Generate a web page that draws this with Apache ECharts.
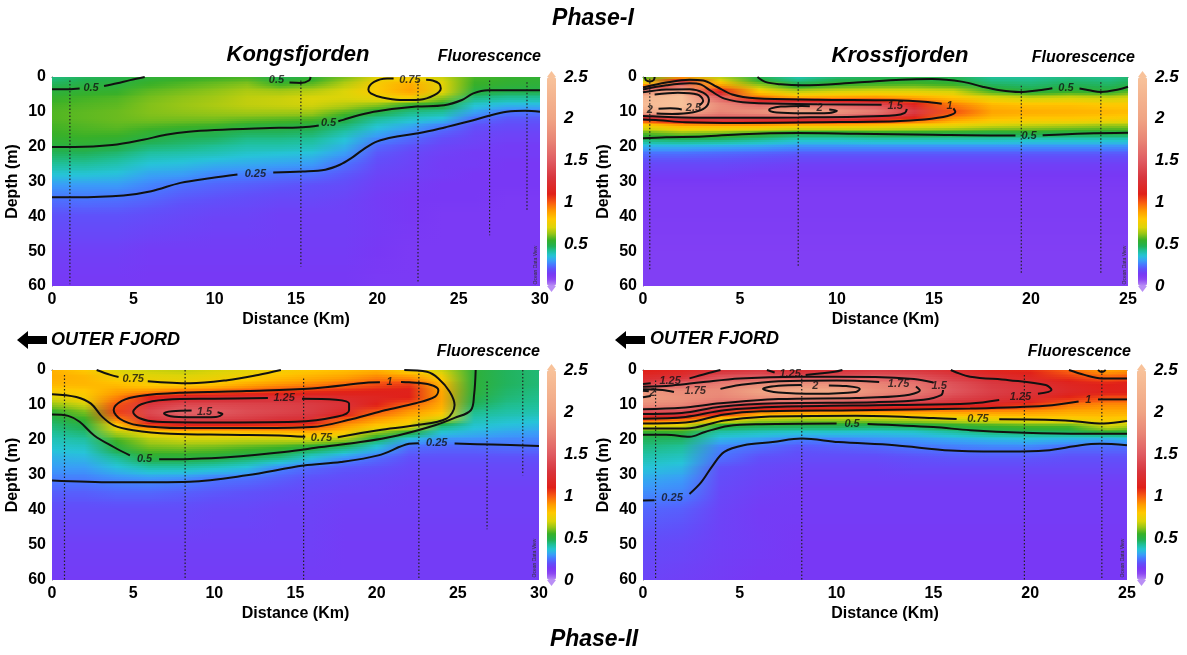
<!DOCTYPE html>
<html lang="en">
<head>
<meta charset="utf-8">
<title>Fluorescence sections</title>
<script src="https://cdn.jsdelivr.net/npm/echarts@6/dist/echarts.min.js"></script>
<style>
  html, body { margin: 0; padding: 0; background: #fff; }
  #main { width: 1187px; height: 655px; }
</style>
</head>
<body>
<div id="main"></div>
<script>
// depth nodes (m) shared by all sections
var depths = [0, 2, 4, 6, 8, 10, 12, 14, 16, 18, 20, 22, 25, 28, 31, 35, 40, 50, 60];
var kongsX = [0, 2, 4, 6, 8, 10, 12, 14, 16, 18, 20, 22, 24, 26, 28, 30];
var krossX = [0, 2, 4, 6, 8, 10, 12, 14, 16, 18, 20, 22, 24, 25];

// fluorescence profiles, one per distance node (top -> bottom)
var kongsP1 = [
  [0.44,0.47,0.51,0.54,0.56,0.57,0.57,0.56,0.55,0.53,0.50,0.47,0.42,0.36,0.30,0.245,0.20,0.16,0.14],
  [0.47,0.50,0.53,0.56,0.57,0.58,0.58,0.57,0.56,0.54,0.51,0.47,0.42,0.36,0.30,0.25,0.20,0.16,0.14],
  [0.49,0.51,0.54,0.57,0.58,0.59,0.59,0.58,0.56,0.53,0.49,0.45,0.40,0.35,0.30,0.245,0.20,0.16,0.14],
  [0.52,0.55,0.58,0.60,0.61,0.61,0.60,0.57,0.53,0.49,0.45,0.41,0.36,0.31,0.27,0.23,0.19,0.15,0.14],
  [0.54,0.57,0.60,0.62,0.63,0.62,0.60,0.56,0.50,0.47,0.44,0.40,0.35,0.30,0.245,0.21,0.18,0.15,0.14],
  [0.55,0.59,0.62,0.64,0.65,0.63,0.60,0.55,0.49,0.46,0.42,0.39,0.33,0.27,0.23,0.20,0.17,0.15,0.14],
  [0.56,0.61,0.65,0.67,0.67,0.64,0.59,0.52,0.47,0.43,0.40,0.37,0.32,0.26,0.22,0.19,0.17,0.15,0.14],
  [0.48,0.55,0.64,0.68,0.68,0.64,0.58,0.51,0.47,0.43,0.40,0.36,0.31,0.245,0.21,0.18,0.16,0.15,0.14],
  [0.52,0.58,0.66,0.70,0.69,0.64,0.57,0.50,0.46,0.42,0.39,0.35,0.30,0.24,0.20,0.18,0.16,0.15,0.14],
  [0.60,0.66,0.70,0.70,0.66,0.58,0.50,0.45,0.40,0.36,0.33,0.30,0.245,0.21,0.19,0.17,0.16,0.15,0.14],
  [0.72,0.78,0.79,0.73,0.62,0.50,0.42,0.37,0.32,0.27,0.23,0.21,0.19,0.17,0.16,0.15,0.15,0.14,0.13],
  [0.76,0.86,0.88,0.78,0.53,0.44,0.38,0.32,0.27,0.23,0.20,0.18,0.17,0.16,0.15,0.14,0.14,0.13,0.13],
  [0.68,0.72,0.72,0.62,0.51,0.42,0.35,0.26,0.22,0.19,0.17,0.16,0.15,0.15,0.14,0.14,0.13,0.13,0.13],
  [0.56,0.55,0.51,0.44,0.37,0.31,0.24,0.20,0.18,0.17,0.16,0.15,0.15,0.14,0.14,0.14,0.13,0.13,0.13],
  [0.54,0.53,0.49,0.42,0.34,0.25,0.21,0.19,0.17,0.16,0.15,0.15,0.14,0.14,0.14,0.13,0.13,0.13,0.13],
  [0.53,0.52,0.49,0.42,0.34,0.25,0.21,0.19,0.17,0.16,0.15,0.15,0.14,0.14,0.14,0.13,0.13,0.13,0.13]
];
var krossP1 = [
  [0.55,0.80,1.75,2.30,2.40,2.05,1.10,0.75,0.58,0.45,0.32,0.24,0.18,0.15,0.13,0.12,0.12,0.11,0.11],
  [0.85,1.50,2.15,2.55,2.55,2.15,1.30,0.85,0.62,0.46,0.32,0.24,0.18,0.15,0.13,0.12,0.12,0.11,0.11],
  [0.65,0.85,1.10,1.55,1.80,1.75,1.40,0.85,0.60,0.45,0.31,0.23,0.18,0.15,0.13,0.12,0.12,0.11,0.11],
  [0.48,0.60,0.78,0.98,1.60,1.85,1.35,0.85,0.55,0.42,0.30,0.22,0.17,0.14,0.13,0.12,0.12,0.11,0.11],
  [0.40,0.48,0.65,0.88,1.70,2.05,1.30,0.80,0.50,0.38,0.28,0.21,0.16,0.14,0.13,0.12,0.12,0.11,0.11],
  [0.45,0.53,0.68,0.90,1.55,1.90,1.30,0.80,0.50,0.38,0.28,0.21,0.16,0.14,0.13,0.12,0.12,0.11,0.11],
  [0.47,0.55,0.70,0.92,1.45,1.70,1.20,0.78,0.52,0.39,0.28,0.21,0.16,0.14,0.13,0.12,0.12,0.11,0.11],
  [0.49,0.56,0.70,0.88,1.15,1.35,1.05,0.75,0.52,0.39,0.28,0.21,0.16,0.14,0.13,0.12,0.12,0.11,0.11],
  [0.48,0.54,0.68,0.82,0.95,1.02,0.90,0.72,0.51,0.39,0.28,0.21,0.16,0.14,0.13,0.12,0.12,0.11,0.11],
  [0.42,0.46,0.55,0.72,0.84,0.88,0.82,0.68,0.50,0.39,0.28,0.21,0.16,0.14,0.13,0.12,0.12,0.11,0.11],
  [0.42,0.45,0.50,0.68,0.82,0.86,0.80,0.66,0.51,0.38,0.28,0.21,0.16,0.14,0.13,0.12,0.12,0.11,0.11],
  [0.44,0.47,0.53,0.70,0.82,0.85,0.80,0.64,0.50,0.38,0.28,0.21,0.16,0.14,0.13,0.12,0.12,0.11,0.11],
  [0.43,0.46,0.51,0.68,0.80,0.84,0.78,0.62,0.50,0.38,0.28,0.21,0.16,0.14,0.13,0.12,0.12,0.11,0.11],
  [0.45,0.48,0.56,0.70,0.80,0.83,0.77,0.62,0.50,0.38,0.28,0.21,0.16,0.14,0.13,0.12,0.12,0.11,0.11]
];
var kongsP2 = [
  [0.85,0.86,0.84,0.78,0.70,0.62,0.53,0.48,0.45,0.42,0.39,0.37,0.33,0.30,0.26,0.22,0.19,0.16,0.15],
  [0.80,0.84,0.84,0.80,0.77,0.68,0.60,0.55,0.49,0.45,0.41,0.38,0.34,0.30,0.26,0.22,0.19,0.16,0.15],
  [0.70,0.76,0.82,0.88,0.94,1.02,1.05,0.95,0.77,0.65,0.56,0.51,0.42,0.35,0.28,0.23,0.19,0.16,0.15],
  [0.68,0.72,0.78,0.90,1.12,1.30,1.40,1.30,1.00,0.74,0.65,0.60,0.51,0.40,0.29,0.23,0.19,0.16,0.15],
  [0.67,0.71,0.77,0.95,1.20,1.40,1.55,1.40,1.08,0.78,0.68,0.61,0.51,0.40,0.28,0.22,0.19,0.16,0.15],
  [0.69,0.73,0.80,0.97,1.22,1.40,1.50,1.38,1.07,0.78,0.68,0.60,0.50,0.38,0.25,0.21,0.18,0.16,0.15],
  [0.72,0.76,0.86,1.00,1.24,1.38,1.42,1.34,1.06,0.80,0.67,0.58,0.47,0.35,0.24,0.20,0.18,0.16,0.15],
  [0.76,0.82,0.90,1.04,1.25,1.36,1.38,1.28,1.05,0.82,0.67,0.56,0.44,0.27,0.22,0.19,0.17,0.16,0.15],
  [0.80,0.85,0.93,1.06,1.24,1.33,1.33,1.25,1.03,0.84,0.68,0.51,0.36,0.23,0.20,0.18,0.17,0.16,0.15],
  [0.82,0.88,0.97,1.08,1.20,1.26,1.20,1.00,0.90,0.79,0.63,0.46,0.29,0.21,0.19,0.17,0.16,0.15,0.15],
  [0.85,0.93,1.02,1.10,1.15,1.10,1.00,0.90,0.80,0.62,0.46,0.36,0.24,0.20,0.18,0.17,0.16,0.15,0.15],
  [0.76,0.90,1.05,1.12,1.10,0.98,0.90,0.82,0.74,0.50,0.33,0.24,0.20,0.18,0.17,0.16,0.16,0.15,0.15],
  [0.68,0.77,0.84,0.87,0.88,0.86,0.82,0.70,0.45,0.36,0.28,0.23,0.20,0.18,0.17,0.16,0.16,0.15,0.15],
  [0.52,0.52,0.52,0.52,0.50,0.47,0.43,0.40,0.37,0.33,0.28,0.23,0.20,0.18,0.17,0.16,0.16,0.15,0.15],
  [0.47,0.47,0.47,0.46,0.45,0.43,0.41,0.38,0.35,0.31,0.27,0.24,0.20,0.18,0.17,0.16,0.16,0.15,0.15],
  [0.45,0.45,0.45,0.44,0.43,0.42,0.40,0.37,0.34,0.30,0.27,0.24,0.20,0.18,0.17,0.16,0.16,0.15,0.15]
];
var krossP2 = [
  [1.10,1.20,1.30,1.90,1.95,1.80,1.40,1.05,0.72,0.52,0.47,0.44,0.40,0.36,0.32,0.28,0.23,0.19,0.17],
  [1.15,1.25,1.55,1.80,1.85,1.75,1.40,1.00,0.70,0.52,0.46,0.42,0.38,0.34,0.30,0.27,0.22,0.18,0.16],
  [1.25,1.45,1.70,1.80,1.75,1.50,1.20,0.80,0.50,0.40,0.33,0.27,0.245,0.20,0.19,0.18,0.17,0.16,0.15],
  [1.30,1.50,1.80,2.00,1.85,1.30,0.95,0.68,0.48,0.38,0.30,0.24,0.20,0.18,0.17,0.16,0.15,0.15,0.14],
  [1.22,1.45,1.85,2.10,1.85,1.35,0.92,0.65,0.48,0.36,0.26,0.21,0.19,0.17,0.16,0.15,0.15,0.14,0.14],
  [1.26,1.45,1.85,2.05,1.80,1.30,0.90,0.65,0.48,0.36,0.26,0.22,0.19,0.17,0.16,0.15,0.15,0.14,0.14],
  [1.32,1.50,1.75,1.82,1.65,1.26,0.90,0.66,0.47,0.35,0.28,0.23,0.19,0.17,0.16,0.15,0.15,0.14,0.14],
  [1.30,1.45,1.65,1.70,1.55,1.22,0.90,0.68,0.48,0.36,0.29,0.25,0.20,0.18,0.16,0.15,0.15,0.14,0.14],
  [1.22,1.33,1.45,1.48,1.38,1.18,0.90,0.70,0.52,0.40,0.31,0.26,0.21,0.18,0.16,0.15,0.15,0.14,0.14],
  [1.12,1.22,1.32,1.35,1.30,1.15,0.90,0.74,0.55,0.44,0.33,0.27,0.21,0.18,0.16,0.15,0.15,0.14,0.14],
  [1.08,1.15,1.25,1.28,1.22,1.05,0.90,0.76,0.57,0.45,0.34,0.27,0.21,0.18,0.16,0.15,0.15,0.14,0.14],
  [0.98,1.05,1.15,1.18,1.08,0.95,0.87,0.77,0.57,0.46,0.32,0.24,0.20,0.18,0.16,0.15,0.15,0.14,0.14],
  [0.88,0.98,1.10,1.12,1.02,0.92,0.86,0.80,0.70,0.50,0.30,0.24,0.20,0.18,0.16,0.15,0.15,0.14,0.14],
  [0.90,1.00,1.12,1.12,1.02,0.92,0.86,0.78,0.66,0.50,0.32,0.24,0.20,0.18,0.16,0.15,0.15,0.14,0.14]
];

// contour lines [distance km, depth m], split where the level label sits
var kongsP1Contours = [
  { v: '0.5', at: [2.4, 3.1], parts: [[[0,3.5],[1.0,3.5],[1.7,3.3]], [[3.2,2.6],[4.0,1.8],[4.8,0.9],[5.7,0]]] },
  { v: '0.5', at: [13.8, 0.9], parts: [[[14.6,1.6],[15.3,1.7],[15.8,1.0],[15.9,0]]] },
  { v: '0.5', at: [17.0, 13.3], parts: [[[30,3.8],[26.8,3.8],[25.9,4.7],[25.2,6.6],[24.1,8.1],[22.4,8.5],[20,9.8],[18.9,10.9],[17.9,12.3],[17.6,12.7]],
                                       [[16.4,13.9],[15.4,14.4],[13,14.7],[10,15.2],[8.4,15.7],[7,16.6],[5.6,18],[3.7,19.5],[1.4,20.1],[0,20.1]]] },
  { v: '0.75', at: [22.0, 0.8], parts: [[[23.0,0.8],[23.4,1.0],[23.8,1.9],[23.9,3.3],[23.5,5.2],[22.6,6.5],[21.4,6.6],[20.3,5.9],[19.6,4.7],[19.45,3.6],[19.8,1.4],[20.6,0.4],[21.0,0.4]]] },
  { v: '0.25', at: [12.5, 27.7], parts: [[[30,10],[29.1,9.7],[27.95,10],[26.8,11.2],[25.6,12.8],[24.2,14.4],[22.6,16.1],[21.2,17.1],[20,18.5],[19.1,20.9],[18.4,23.3],[17.7,25.2],[16.8,26.6],[15.4,27.1],[13.6,27.4]],
                                        [[11.4,28.0],[9.8,29.0],[7.9,30.4],[6.1,32.8],[4.4,34],[1.4,34.5],[0,34.5]]] }
];
var krossP1Contours = [
  { v: '0.5', parts: [[[0.1,0],[0.15,0.9],[0.35,1.3],[0.55,0.9],[0.6,0]]] },
  { v: '0.5', at: [21.8, 3.2], parts: [[[5.9,0],[6.3,1.4],[7.1,2.1],[8.2,2.4],[11,1.6],[13.3,0.8],[14.9,0.6],[16.5,1.4],[17.5,2.8],[18.4,3.8],[19.4,4.3],[20.4,3.8],[21.1,3.2]],
                                       [[22.5,3.3],[23,3.8],[23.6,4.3],[24.5,3.6],[25,2.8]]] },
  { v: '0.5', at: [19.9, 16.8], parts: [[[0,17.6],[1.2,17.3],[3.1,17.1],[5.1,16.4],[8,16.1],[11,16.3],[14.9,16.6],[18.8,16.8],[19.2,16.8]],
                                        [[20.6,16.7],[22.8,16.2],[25,16]]] },
  { v: '1', at: [15.8, 8.3], parts: [[[0,3.0],[1.2,1.6],[2.4,0.8],[3.1,1.0],[3.8,2.8],[4.6,5.0],[5.8,6.1],[9,6.5],[12.9,6.7],[14.5,7.1],[15.4,7.7]],
                                     [[16.0,9.0],[16.1,10],[15.7,11.2],[14.5,12.2],[13,12.7],[9,13.0],[5,13.2],[2.2,13.0],[0.8,12.4],[0,12.2]]] },
  { v: '1.5', at: [13.0, 8.4], parts: [[[0,3.6],[1.2,2.4],[2.4,1.8],[3.0,2.2],[3.5,4.0],[4.2,6.2],[5.5,7.4],[9,7.8],[12.3,8.0]],
                                       [[13.6,9.2],[13.5,10.3],[13,11],[11,11.4],[8,11.6],[5,11.7],[2,11.6],[0.5,11.3],[0,11.2]]] },
  { v: '2', at: [0.35, 9.6], parts: [[[0,4.4],[1.2,3.6],[2.4,3.5],[3.1,4.5],[3.4,6.5],[3.2,8.8],[2.6,10.1],[1.5,10.6],[0.7,10.5]]] },
  { v: '2.5', at: [2.6, 8.9], parts: [[[0.8,9.1],[1.4,9.0],[2.0,9.3]], [[0.6,5.0],[1.8,4.5],[2.8,5.0],[3.1,6.8],[2.9,8.2]]] },
  { v: '2', at: [9.1, 8.9], parts: [[[9.6,9.3],[10,9.7],[9.6,10.3],[8.2,10.4],[6.9,10.2],[6.5,9.5],[6.6,9.0],[7.1,8.5],[8.2,8.3],[8.6,8.4]]] }
];
var kongsP2Contours = [
  { v: '0.75', at: [5.0, 2.6], parts: [[[2.75,0],[3.6,1.4],[4.1,2.0]], [[5.9,3.2],[8.5,3.8],[10.8,2.9],[12.7,1.4],[14.1,0]]] },
  { v: '0.75', at: [16.6, 19.5], parts: [[[0,6.9],[1.5,7.7],[2.4,9.6],[3.1,13.4],[3.8,15.8],[5,17.2],[7.3,18.2],[10.8,18.5],[14,18.7],[15.6,19.1]],
                                         [[17.6,19.2],[20.1,17.2],[22.4,15.8],[24.3,13.9],[24.8,10],[24.5,6.2],[23.8,2.4],[23.1,0.5],[21.7,0]]] },
  { v: '1', at: [20.8, 3.3], parts: [[[20.2,3.5],[19.5,3.6],[16,5.3],[12,6.0],[8,6.5],[5.4,7.4],[4.3,8.8],[3.8,11.4],[4.2,14],[5.3,15.8],[8,16.6],[12,16.6],[16,16.3],[18.5,14],[20.5,11.5],[22.4,9.5],[23.6,7.6],[23.8,5.8],[23.3,4.2],[22,3.5],[21.5,3.4]]] },
  { v: '1.25', at: [14.3, 8.1], parts: [[[13.3,8.0],[10,8.2],[7,8.5],[5.5,9.8],[5.0,12],[5.4,13.8],[6.5,14.8],[10,15],[15,14.8],[17.6,13.3],[18.3,11.5],[18.3,9.6],[17.5,8.5],[15.4,8.2]]] },
  { v: '1.5', at: [9.4, 11.9], parts: [[[8.6,11.6],[7.4,11.8],[6.9,12.4],[7.3,13.2],[8.5,13.5],[10.1,13.4],[10.5,12.6],[10.2,12.1]]] },
  { v: '0.5', at: [5.7, 25.3], parts: [[[0,12.7],[1,13.1],[1.7,14.8],[2.6,18.7],[3.8,22],[4.8,24.4]],
                                       [[6.6,25.5],[8.5,25.4],[10.8,24.9],[14.3,23.4],[16.6,22],[19,20.6],[21.3,18.7],[23.6,15.8],[24.8,13.7],[25.8,11.5],[26,7.2],[26.1,0]]] },
  { v: '0.25', at: [23.7, 20.9], parts: [[[0,31.6],[3.8,32.1],[8.5,31.9],[12,30.1],[15.5,27.3],[17.8,26.3],[20.1,24.4],[22,21.1],[22.6,20.9]],
                                         [[24.8,21.0],[27.1,21.3],[30,21.7]]] }
];
var krossP2Contours = [
  { v: '0.25', at: [1.5, 36.6], parts: [[[0,37.3],[0.6,37.2]], [[2.4,35.4],[3,32.1],[3.6,27.3],[4.2,23.4],[5.2,21.5],[6.7,20.6],[8.2,19.6],[10.1,20.6],[13,21.5],[15.9,23],[18.9,23.3],[20.8,23],[22.6,21.5],[23.6,21.1],[25,21.5]]] },
  { v: '0.5', at: [10.8, 15.3], parts: [[[0,18.5],[1.2,18.5],[2.4,19.1],[3.2,17.7],[4.4,16],[6.1,15.5],[10,15.3]],
                                        [[11.6,15.4],[15,16.3],[16.9,17.2],[19.7,17.9],[22.8,18.2],[25,18.2]]] },
  { v: '0.75', at: [17.3, 14.1], parts: [[[0,16.7],[2.2,16.7],[4.2,14.4],[6.1,13.4],[11,13.1],[15,13.7],[16.2,14.0]],
                                         [[18.4,14.1],[21.8,14.4],[23.8,15.3],[25,14.6]]] },
  { v: '1', at: [23.0, 8.6], parts: [[[0,15.3],[2.2,15],[4.2,12.7],[6.1,11.8],[11,11.5],[16.9,11],[20.8,10.2],[22.5,9.0]], [[23.5,8.4],[25,8.4]]] },
  { v: '1', parts: [[[22,0],[22.8,1.4],[23.7,2.4],[25,2.4]], [[23.5,0],[23.7,0.6],[23.9,0]]] },
  { v: '1.25', at: [19.5, 7.7], parts: [[[0,13.9],[2.2,13.4],[4.2,11.5],[7.1,10.5],[13,10],[16.9,9.6],[18.4,8.6]],
                                        [[20.4,6.8],[21.1,5.7],[20.8,4.3],[18.9,2.9],[16.9,1.9],[16.1,0.5],[15.9,0]]] },
  { v: '1.25', at: [1.4, 3.2], parts: [[[0,4.0],[0.4,3.8]], [[2.4,2.4],[3.3,1.0],[4.0,0]]] },
  { v: '1.25', at: [7.6, 1.0], parts: [[[6.4,0],[6.8,0.7]], [[8.4,1.4],[9.9,0.5],[10.3,0]]] },
  { v: '1.5', at: [15.3, 4.6], parts: [[[0,12.6],[2,12.3],[4,10.5],[7,9.5],[12,9.2],[14.5,8.5],[15.4,7.2],[15.5,5.7]],
                                       [[15.0,3.6],[14,2.6],[12,2.0],[8,1.9],[5,2.4],[3,3.5],[1.5,4.4],[0,4.8]]] },
  { v: '1.75', at: [13.2, 3.9], parts: [[[0,11.2],[2,10.8],[4,9.5],[7,8.3],[11,8.0],[13.5,7.3],[14.3,5.8],[14.1,4.7]],
                                        [[12.2,3.4],[10,3.0],[7,3.2],[5,4.3],[4.0,5.4]]] },
  { v: '1.75', at: [2.7, 6.1], parts: [[[1.6,6.3],[1.0,5.7],[0,5.5]]] },
  { v: '2', at: [8.9, 4.5], parts: [[[8.2,4.3],[7,4.5],[6.2,5.4],[7,6.4],[9,6.8],[11,6.3],[11.2,5.4],[10.5,4.6],[9.6,4.4]]] },
  { v: '2', at: [0.5, 6.7], parts: [[[0,5.9],[0.3,6.1]], [[0.4,7.4],[0,7.8]]] }
];

// CTD stations: [distance km, first depth m, last depth m]
var kongsP1Stations = [[1.1,1,59.5],[15.3,1,54.4],[22.5,1,59.3],[26.9,1,45.4],[29.2,1.5,38.4]];
var krossP1Stations = [[0.35,0.5,55.2],[8.0,1.5,54.4],[19.5,2.5,56.5],[23.6,1.5,56.5]];
var kongsP2Stations = [[0.77,1.4,60],[8.2,0,60],[15.5,2.4,60],[22.6,0,60],[26.8,3.3,45.5],[29.0,0,30.1]];
var krossP2Stations = [[0.65,3,60],[8.2,1.4,60],[19.7,1.4,60],[23.7,0,60]];

// Ocean Data View style palette (value -> colour)
var palette = [[0,'#b98ef5'],[0.08,'#8a45f2'],[0.14,'#7838f5'],[0.2,'#6050fa'],[0.25,'#4a74ff'],[0.3,'#3a9cf8'],
  [0.36,'#26c4d8'],[0.42,'#1fc09a'],[0.48,'#22b050'],[0.55,'#38b028'],[0.62,'#90c418'],[0.7,'#dcd408'],
  [0.8,'#ffc800'],[0.9,'#ff9a00'],[1.0,'#f85a10'],[1.1,'#e02018'],[1.3,'#d8363e'],[1.5,'#e05c62'],
  [1.75,'#e98676'],[2.0,'#f0a484'],[2.5,'#f8c29a']];

function hexRgb(h) {
  return [parseInt(h.slice(1,3),16), parseInt(h.slice(3,5),16), parseInt(h.slice(5,7),16)];
}
function colorAt(v) {
  v = Math.max(0, Math.min(2.5, v));
  for (var k = 1; k < palette.length; k++) {
    if (v <= palette[k][0]) {
      var t = (v - palette[k-1][0]) / (palette[k][0] - palette[k-1][0]);
      var a = hexRgb(palette[k-1][1]), b = hexRgb(palette[k][1]);
      return 'rgb(' + a.map(function (c, n) { return Math.round(c + (b[n] - c) * t); }).join(',') + ')';
    }
  }
  return palette[palette.length-1][1];
}
var barColors = [];
for (var s = 0; s <= 100; s++) barColors.push(colorAt(s * 0.025));

var FONT = 'Liberation Sans';
var panels = [
  { xs: kongsX, xMax: 30, field: kongsP1, contours: kongsP1Contours, stations: kongsP1Stations,
    grid: { left: 52, top: 77, width: 488, height: 209 }, barLeft: 547 },
  { xs: krossX, xMax: 25, field: krossP1, contours: krossP1Contours, stations: krossP1Stations,
    grid: { left: 643, top: 77, width: 485, height: 209 }, barLeft: 1138 },
  { xs: kongsX, xMax: 30, field: kongsP2, contours: kongsP2Contours, stations: kongsP2Stations,
    grid: { left: 52, top: 370, width: 487, height: 210 }, barLeft: 547 },
  { xs: krossX, xMax: 25, field: krossP2, contours: krossP2Contours, stations: krossP2Stations,
    grid: { left: 643, top: 370, width: 484, height: 210 }, barLeft: 1137 }
];

var grids = [], xAxes = [], yAxes = [], series = [], visualMaps = [];
var barGrids = [], barX = [], barY = [];
var tickStyle = { color: '#000', fontFamily: FONT, fontWeight: 'bold', fontSize: 16 };

// one cell between distance nodes i,i+1 and depth nodes j,j+1, shaded in 1-2px strips
function cellRenderer(p) {
  return function (params, api) {
    var i = api.value(0), j = api.value(1);
    var a = api.coord([p.xs[i], depths[j]]);
    var b = api.coord([p.xs[i+1], depths[j+1]]);
    var x0 = Math.floor(a[0]), x1 = Math.ceil(b[0]);
    var y0 = Math.round(a[1]), y1 = Math.round(b[1]);
    var h = y1 - y0;
    var n = Math.max(1, Math.ceil(h / 2));
    var f = p.field, kids = [];
    for (var s = 0; s < n; s++) {
      var t = (s + 0.5) / n;
      var vl = f[i][j] + (f[i][j+1] - f[i][j]) * t;
      var vr = f[i+1][j] + (f[i+1][j+1] - f[i+1][j]) * t;
      var ys = y0 + Math.round(h * s / n), ye = y0 + Math.round(h * (s + 1) / n);
      kids.push({
        type: 'rect',
        shape: { x: x0, y: ys, width: x1 - x0 + 1, height: ye - ys + 1 },
        style: { fill: new echarts.graphic.LinearGradient(a[0], 0, b[0], 0, [
          { offset: 0, color: colorAt(vl) }, { offset: 1, color: colorAt(vr) }], true) }
      });
    }
    return { type: 'group', children: kids };
  };
}

panels.forEach(function (p, k) {
  grids.push(Object.assign({ outerBoundsMode: 'none', containLabel: false }, p.grid));
  xAxes.push({
    type: 'value', gridIndex: k, min: 0, max: p.xMax, interval: 5,
    name: 'Distance (Km)', nameLocation: 'middle', nameGap: 26,
    nameTextStyle: { color: '#000', fontFamily: FONT, fontWeight: 'bold', fontSize: 16 },
    axisLabel: Object.assign({ margin: 6 }, tickStyle),
    axisTick: { show: false }, splitLine: { show: false },
    axisLine: { show: true, lineStyle: { color: '#555', width: 1 } }
  });
  yAxes.push({
    type: 'value', gridIndex: k, inverse: true, min: 0, max: 60, interval: 10,
    name: 'Depth (m)', nameLocation: 'middle', nameGap: 31, nameRotate: 90,
    nameTextStyle: { color: '#000', fontFamily: FONT, fontWeight: 'bold', fontSize: 16 },
    axisLabel: Object.assign({ margin: 6 }, tickStyle),
    axisTick: { show: false }, splitLine: { show: false },
    axisLine: { show: true, lineStyle: { color: '#555', width: 1 } }
  });

  var cells = [];
  for (var i = 0; i < p.xs.length - 1; i++) {
    for (var j = 0; j < depths.length - 1; j++) cells.push([i, j, p.field[i][j]]);
  }
  var fieldIndex = series.length;
  series.push({
    type: 'custom', xAxisIndex: k, yAxisIndex: k, silent: true, clip: true, z: 1,
    data: cells, renderItem: cellRenderer(p)
  });

  p.stations.forEach(function (st) {
    series.push({
      type: 'line', xAxisIndex: k, yAxisIndex: k, silent: true, z: 3, symbol: 'none',
      data: [[st[0], st[1]], [st[0], st[2]]],
      lineStyle: { color: '#222', width: 1.2, type: [1.5, 2] }
    });
  });

  p.contours.forEach(function (c) {
    c.parts.forEach(function (part) {
      series.push({
        type: 'line', xAxisIndex: k, yAxisIndex: k, silent: true, z: 4, symbol: 'none',
        smooth: 0.35, data: part,
        lineStyle: { color: '#111', width: 2 }
      });
    });
  });

  series.push({
    type: 'scatter', xAxisIndex: k, yAxisIndex: k, silent: true, z: 5, symbolSize: 1,
    itemStyle: { color: 'rgba(0,0,0,0)' },
    data: p.contours.filter(function (c) { return c.at; }).map(function (c) { return [c.at[0], c.at[1], c.v]; }),
    label: {
      show: true, position: 'inside', formatter: function (q) { return q.data[2]; },
      color: '#111', fontFamily: FONT, fontStyle: 'italic', fontWeight: 'bold', fontSize: 11
    }
  });

  // colour bar + its tick labels (grids 4..7)
  barGrids.push({ left: p.barLeft, top: p.grid.top, width: 9, height: p.grid.height, outerBoundsMode: 'none', containLabel: false });
  barX.push({ type: 'value', gridIndex: k + 4, min: 0, max: 1, show: false });
  barY.push({
    type: 'value', gridIndex: k + 4, position: 'right', min: 0, max: 2.5, interval: 0.5,
    axisLine: { show: false }, axisTick: { show: false }, splitLine: { show: false },
    axisLabel: { margin: 8, color: '#000', fontFamily: FONT, fontStyle: 'italic', fontWeight: 'bold', fontSize: 17 }
  });
  visualMaps.push({
    type: 'continuous', min: 0, max: 2.5, seriesIndex: fieldIndex, dimension: 2,
    left: p.barLeft, top: p.grid.top, itemWidth: 9, itemHeight: p.grid.height,
    padding: 0, calculable: false, hoverLink: false, realtime: false,
    inRange: { color: barColors }
  });
});

function label(text, x, y, size, align) {
  return { type: 'text', x: x, y: y, silent: true, z: 10,
    style: { text: text, fill: '#000', align: align || 'center', verticalAlign: 'middle',
      font: 'italic bold ' + size + 'px "' + FONT + '"' } };
}
function arrow(dx) {
  return { type: 'polygon', silent: true, z: 10,
    shape: { points: [[17+dx,340],[28+dx,331],[28+dx,336],[47+dx,336],[47+dx,344],[28+dx,344],[28+dx,349]] },
    style: { fill: '#000' } };
}
function barTips(x, top, bottom) {
  return [
    { type: 'polygon', silent: true, shape: { points: [[x,top],[x+9,top],[x+4.5,top-6]] }, style: { fill: '#f8c29a' } },
    { type: 'polygon', silent: true, shape: { points: [[x,bottom],[x+9,bottom],[x+4.5,bottom+6]] }, style: { fill: '#b98ef5' } }
  ];
}
function odv(x, y) {
  return { type: 'text', x: x, y: y, rotation: Math.PI / 2, silent: true, z: 10,
    style: { text: 'Ocean Data View', fill: '#333', font: '5px "' + FONT + '"', align: 'center', verticalAlign: 'middle' } };
}

var graphics = [
  label('Phase-I', 593, 19, 23),
  label('Phase-II', 594, 640, 23),
  label('Kongsfjorden', 298, 55, 22),
  label('Krossfjorden', 900, 56, 22),
  label('Fluorescence', 541, 57, 16, 'right'),
  label('Fluorescence', 1135, 58, 16, 'right'),
  label('Fluorescence', 540, 352, 16, 'right'),
  label('Fluorescence', 1131, 352, 16, 'right'),
  arrow(0), label('OUTER FJORD', 51, 340, 18, 'left'),
  arrow(598), label('OUTER FJORD', 650, 339, 18, 'left'),
  odv(536, 265), odv(1125, 265), odv(535, 558), odv(1123, 558)
].concat(barTips(547, 77, 286), barTips(1138, 77, 286), barTips(547, 370, 580), barTips(1137, 370, 580));

var chart = echarts.init(document.getElementById('main'), null, { renderer: 'canvas' });
chart.setOption({
  animation: false,
  backgroundColor: '#fff',
  grid: grids.concat(barGrids),
  xAxis: xAxes.concat(barX),
  yAxis: yAxes.concat(barY),
  visualMap: visualMaps,
  series: series,
  graphic: graphics
});
</script>
</body>
</html>
